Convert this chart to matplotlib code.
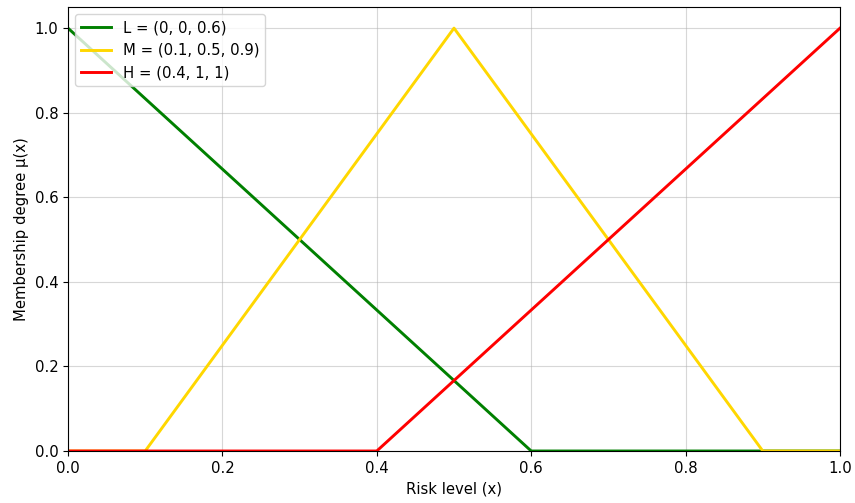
import numpy as np
import matplotlib.pyplot as plt

# triangular membership functions (breakpoints)
x_low = [0.0, 0.6, 1.0]
y_low = [1.0, 0.0, 0.0]
x_med = [0.0, 0.1, 0.5, 0.9, 1.0]
y_med = [0.0, 0.0, 1.0, 0.0, 0.0]
x_high = [0.0, 0.4, 1.0]
y_high = [0.0, 0.0, 1.0]

labels = ['L = (0, 0, 0.6)', 'M = (0.1, 0.5, 0.9)', 'H = (0.4, 1, 1)']
colors = ['green', 'gold', 'red']

plt.rcParams['font.size'] = 10.7

fig = plt.figure(figsize=(8.55, 5.03), dpi=100)
ax = fig.add_axes([68/855, 1-451/503, (840-68)/855, (451-7)/503])

ax.plot(x_low, y_low, color=colors[0], lw=2.1, label=labels[0])
ax.plot(x_med, y_med, color=colors[1], lw=2.1, label=labels[1])
ax.plot(x_high, y_high, color=colors[2], lw=2.1, label=labels[2])

ax.set_xlim(0, 1)
ax.set_ylim(0, 1.05)
ax.set_xlabel('Risk level (x)')
ax.set_ylabel('Membership degree μ(x)')
ax.grid(True, alpha=0.5)
ax.legend(loc='upper left')

plt.savefig('out.png', dpi=100)
